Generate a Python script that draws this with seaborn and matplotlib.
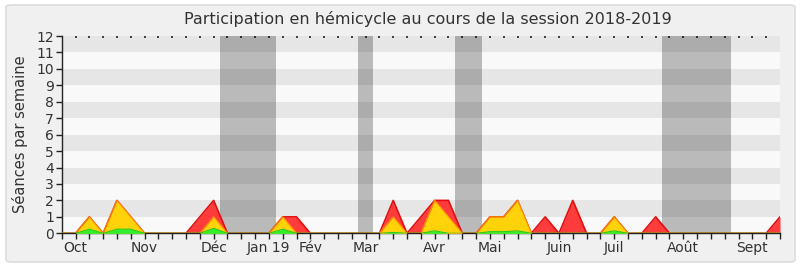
import numpy as np
import pandas as pd
import matplotlib
matplotlib.use("Agg")
import matplotlib.pyplot as plt
import seaborn as sns
from matplotlib.patches import FancyBboxPatch

# ---- data (weekly, week 0 = 24 Sept 2018) ----
weeks = list(range(53))
seances_total = [0, 0, 1, 0, 2, 1, 0, 0, 0, 0,
                 1, 2, 0, 0, 0, 0, 1, 1, 0, 0,
                 0, 0, 0, 0, 2, 0, 1, 2, 2, 0,
                 0, 1, 1, 2, 0, 1, 0, 2, 0, 0,
                 1, 0, 0, 1, 0, 0, 0, 0, 0, 0,
                 0, 0, 1]
seances_presence = [0, 0, 1, 0, 2, 1, 0, 0, 0, 0,
                    0, 1, 0, 0, 0, 0, 1, 0, 0, 0,
                    0, 0, 0, 0, 1, 0, 0, 2, 1, 0,
                    0, 1, 1, 2, 0, 0, 0, 0, 0, 0,
                    1, 0, 0, 0, 0, 0, 0, 0, 0, 0,
                    0, 0, 0]
interventions = [0, 0, 0.25, 0, 0.25, 0.25, 0, 0, 0, 0,
                 0, 0.3, 0, 0, 0, 0, 0.25, 0, 0, 0,
                 0, 0, 0, 0, 0.05, 0, 0, 0.15, 0, 0,
                 0, 0.1, 0.1, 0.15, 0, 0, 0, 0, 0, 0,
                 0.15, 0, 0, 0, 0, 0, 0, 0, 0, 0,
                 0, 0, 0]
month_labels = ["Oct", "Nov", "Déc", "Jan 19", "Fév", "Mar", "Avr",
                "Mai", "Juin", "Juil", "Août", "Sept"]
month_weeks = [1, 6, 11, 15, 18, 22, 27, 31, 36, 40, 45, 50]
vacances_debut = [11.45, 21.45, 28.45, 43.45]
vacances_fin = [15.5, 22.5, 30.45, 48.45]

df = pd.DataFrame({"week": weeks, "total": seances_total,
                   "presence": seances_presence, "interv": interventions})

sns.set_style("white")
plt.rcParams['font.family'] = ['DejaVu Sans']

fig = plt.figure(figsize=(8, 2.67), dpi=100)
fig.patch.set_facecolor("white")
frame = FancyBboxPatch((6 / 800, 5 / 267), 789 / 800, 257 / 267,
                       boxstyle="round,pad=0,rounding_size=0.008",
                       transform=fig.transFigure, facecolor="#f0f0f0",
                       edgecolor="#dcdcdc", linewidth=1.2, zorder=-10)
fig.patches.append(frame)

ax = fig.add_axes([61.7 / 800, 1 - 233.3 / 267, (780 - 61.7) / 800, (233.3 - 36) / 267])
ax.set_zorder(1)
ax.set_facecolor("#f9f9f9")

# stripes
for k in range(12):
    if k % 2 == 1:
        ax.axhspan(k, k + 1, color="#e6e6e6", lw=0, zorder=0)
# holidays
for a, b in zip(vacances_debut, vacances_fin):
    ax.axvspan(a, b, color="black", alpha=0.25, lw=0, zorder=1)

ax.fill_between(df["week"], df["total"], color="#ff3c3c", lw=0, zorder=2)
sns.lineplot(data=df, x="week", y="total", ax=ax, color="#e01010", lw=1.2, zorder=3)
ax.fill_between(df["week"], df["presence"], color="#ffd20a", lw=0, zorder=4)
sns.lineplot(data=df, x="week", y="presence", ax=ax, color="#ff9a00", lw=1.0, alpha=0.8, zorder=5)
ax.fill_between(df["week"], df["interv"], color="#2ef02e", lw=0, zorder=6)
sns.lineplot(data=df, x="week", y="interv", ax=ax, color="#22cc22", lw=0.8, zorder=7)

ax.set_xlim(0, 52)
ax.set_ylim(0, 12)
ax.set_yticks(range(13))
ax.set_xticks(range(53))
labels = [""] * 53
for w, l in zip(month_weeks, month_labels):
    labels[w] = l
ax.set_xticklabels(labels)
ax.tick_params(axis="x", length=4, width=1, color="#222222", labelsize=10,
               labelcolor="#333333", pad=1.5, bottom=True, top=False, direction="out")
ax.tick_params(axis="y", length=4, width=1, color="#222222", labelsize=10,
               labelcolor="#333333", pad=1.5, left=True)
sec = ax.secondary_xaxis("top")
sec.set_xticks(range(1, 52))
sec.set_xticklabels([])
sec.tick_params(axis="x", length=1.5, width=1.2, color="#222222", direction="in")
sec.spines["top"].set_visible(False)
for s in ["top", "right"]:
    ax.spines[s].set_visible(False)
for s in ["left", "bottom"]:
    ax.spines[s].set_color("#222222")
    ax.spines[s].set_linewidth(1)
ax.set_xlabel("")
ax.set_ylabel("Séances par semaine", fontsize=10.5, color="#333333", labelpad=6)
fig.text(428 / 800, 1 - 19 / 267, "Participation en hémicycle au cours de la session 2018-2019",
         ha="center", va="center", fontsize=11.5, color="#333333")

fig.savefig("out.png", dpi=100, facecolor=fig.get_facecolor())
